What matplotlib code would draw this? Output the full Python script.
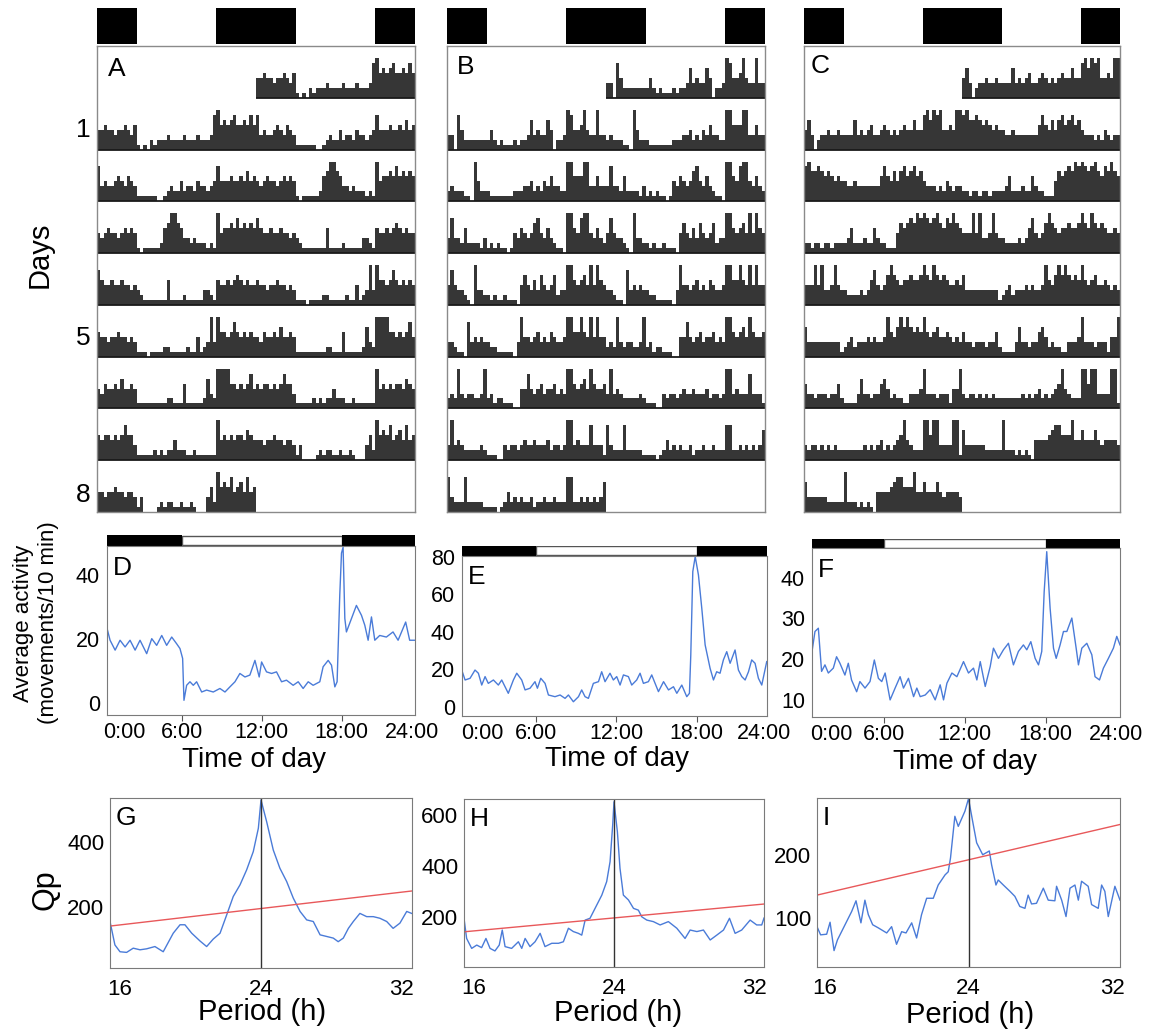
import numpy as np
import matplotlib.pyplot as plt

plt.rcParams['font.family'] = ['Liberation Sans', 'DejaVu Sans']

# ---- actogram data: one string per day, 48 half-hour bins, activity level 0-9
act_A = ["445443445435" "1010" "21222322223222322" "237" "856567556575",
         "734334543543" "11111100" "1232242332433234" "744454454645",
         "434544345454" "10111112" "568865" "3323222121" "845565756565",
         "754454454434" "321111111511112111113321" "544545654544",
         "544344544343" "111011112211111211412383" "855457545454",
         "435445464454" "111111111221115111112632" "888855454574",
         "545545457553" "111112121224222112111111" "845454554654",
         "443445443443" "130000121221121121000352" "856574564745"]
act_B = ["330742222222" "242121112122363433640223" "874458433833",
         "232221108422" "211111112223342324353322" "885558833533",
         "373325222213" "121211014354346743532110" "885478843532",
         "474332108332" "212112111046435364346233" "885456484854",
         "332110734343" "322111110384434534354334" "885585484844",
         "232832332238" "231221110044743453445343" "885456485445",
         "383432222232" "111003233234334333423323" "883433373331",
         "732227222221" "111012423232231223223222" "772232323236"]
act_C = ["463023343343" "333634345334543434544644" "786878445488",
         "786676565454" "433433333335754646756756" "433323243233",
         "221221221222" "235222322532211146567687" "876786576865",
         "444848334843" "322223235743468654556556" "865865654454",
         "633333333331" "234233343433485468686565" "854564454343",
         "533233323352" "111136332335642322113334" "833323331448",
         "323323232322" "222222323234232345843222" "885883333881",
         "633333322222" "822212121044445677555844" "644464344443"]

# ---- average activity profiles (movements / 10 min)
t_D = [0.35,0.6,0.98,1.35,1.73,2.1,2.48,2.85,3.35,3.73,4.1,4.48,4.85,5.23,5.6,5.85,6.05,6.15,6.35,6.6,
       6.85,7.1,7.48,7.85,8.35,8.85,9.23,9.6,9.98,10.35,10.73,11.1,11.48,11.8,11.98,12.35,12.73,13.1,13.48,13.85,
       14.35,14.73,15.1,15.48,15.85,16.35,16.6,16.98,17.23,17.48,17.65,17.85,17.98,18.1,18.23,18.35,18.73,19.1,19.48,19.73,
       19.98,20.23,20.48,20.85,21.35,21.85,22.23,22.8,23.1,23.48]
v_D = [23.8,19.7,16.6,19.7,17.6,19.7,16.6,19.7,15.5,20.2,18.1,21.2,18.1,20.7,18.6,17.1,14.0,0.9,5.6,6.7,
       5.6,6.7,3.5,4.1,3.5,4.6,3.5,5.1,6.7,9.3,8.2,8.8,13.4,8.2,12.9,9.8,9.3,9.8,6.7,7.2,
       5.6,6.7,4.6,6.7,5.6,6.7,11.4,13.4,11.9,5.1,6.7,33.8,47.0,48.8,26.5,22.3,26.5,30.6,27.5,24.4,
       19.7,27.0,19.7,21.2,20.7,22.3,19.7,25.4,19.7,19.7]
t_E = [0.5,0.75,1.12,1.49,1.74,1.99,2.24,2.48,2.86,3.23,3.48,3.97,4.35,4.6,4.97,5.22,5.59,5.96,6.14,6.39,
       6.71,6.96,7.45,7.83,8.2,8.45,8.82,9.2,9.44,9.69,9.94,10.31,10.69,10.93,11.18,11.55,11.8,12.05,12.3,12.55,
       12.92,13.17,13.54,13.79,14.04,14.41,14.66,14.91,15.16,15.54,15.91,16.28,16.53,16.9,17.27,17.47,17.57,17.72,17.9,18.14,
       18.39,18.64,19.01,19.26,19.5,19.75,20.0,20.25,20.5,20.87,21.12,21.37,21.62,21.87,22.11,22.36,22.61,22.86,23.23]
v_E = [19.7,14.4,15.3,19.7,18.0,11.7,16.2,12.6,14.4,11.7,14.4,7.3,14.4,18.0,14.4,9.1,10.0,13.5,10.0,15.3,
       12.6,6.4,5.5,6.4,4.6,6.4,2.8,5.5,9.1,5.5,4.6,12.6,13.5,18.8,13.5,18.0,14.4,16.2,11.7,17.1,
       16.2,11.7,14.4,18.0,12.6,13.5,17.1,12.6,8.2,13.5,9.1,10.8,7.3,11.7,5.5,7.3,27.7,72.2,80.2,70.4,
       52.6,33.1,20.6,14.4,18.8,18.0,25.1,29.5,23.3,30.4,19.7,16.2,14.4,18.8,25.1,23.3,15.3,11.7,24.2]
t_F = [0.69,0.89,1.14,1.38,1.63,1.88,2.25,2.49,2.74,3.11,3.36,3.6,3.98,4.22,4.6,4.97,5.29,5.59,5.84,6.09,
       6.46,6.83,7.2,7.45,7.82,8.2,8.44,8.69,9.06,9.43,9.8,10.17,10.42,10.67,11.04,11.41,11.9,12.27,12.64,12.89,
       13.14,13.51,13.88,14.12,14.49,14.86,15.23,15.6,15.97,16.34,16.59,16.89,17.21,17.46,17.7,17.88,18.07,18.32,18.57,18.77,
       19.06,19.31,19.56,19.93,20.25,20.42,20.67,21.04,21.41,21.65,21.98,22.27,22.64,23.01,23.26,23.5]
v_F = [22.3,26.8,27.6,17.0,18.6,16.6,17.8,20.6,19.0,16.1,19.0,14.9,12.0,14.5,12.9,14.5,19.8,15.3,14.5,16.6,
       10.0,12.9,15.7,12.9,15.3,10.8,12.9,10.8,11.2,12.5,10.0,13.7,10.0,14.1,16.6,15.7,19.4,16.6,17.8,14.9,
       19.4,13.3,18.2,22.7,20.2,22.3,23.9,18.6,21.9,23.5,22.3,24.3,20.2,18.6,21.9,36.6,46.4,32.5,22.7,20.2,
       23.5,26.8,26.8,30.1,22.7,18.6,22.7,23.9,21.1,15.7,14.9,17.8,20.2,22.7,25.6,23.5]

# ---- chi-square periodograms
per_G = [16.0,16.26,16.53,16.88,17.23,17.59,17.94,18.38,18.82,19.35,19.71,19.97,20.33,20.77,21.12,21.47,21.83,22.18,22.53,22.89,
         23.24,23.59,23.86,24.0,24.3,24.65,25.0,25.36,25.71,26.07,26.42,26.77,27.13,27.48,27.83,28.09,28.36,28.63,28.89,29.24,
         29.6,29.95,30.3,30.66,31.0,31.36,31.72,31.98]
qp_G = [155,83,62,60,73,68,71,78,62,119,145,145,119,95,78,101,119,175,232,268,
        314,370,442,529,462,375,319,278,227,186,160,155,114,109,104,93,104,134,155,180,
        170,170,165,155,134,150,186,180]
per_H = [16.0,16.14,16.41,16.68,16.94,17.17,17.39,17.65,17.88,18.04,18.19,18.54,18.9,19.08,19.26,19.52,19.79,20.06,20.32,20.68,
         21.04,21.3,21.57,21.83,22.1,22.28,22.46,22.72,22.99,23.35,23.61,23.79,23.93,24.0,24.18,24.32,24.5,24.77,25.04,25.3,
         25.48,25.75,26.1,26.46,26.9,27.35,27.79,28.06,28.42,28.77,29.13,29.48,29.84,30.16,30.46,30.81,31.26,31.61,31.88,32.0]
qp_H = [195,116,77,90,80,116,77,67,90,149,84,77,103,77,116,84,103,136,84,97,
        97,103,156,143,136,129,188,195,234,286,339,417,561,652,535,391,286,267,234,227,
        201,188,182,169,182,156,116,149,143,149,110,129,149,195,136,149,188,169,169,196]
per_I = [16.0,16.19,16.51,16.69,16.9,17.08,17.48,17.83,18.06,18.32,18.53,18.71,18.94,19.24,19.68,19.94,20.2,20.47,20.7,21.0,
         21.26,21.52,21.79,22.14,22.4,22.76,22.93,23.05,23.28,23.46,23.81,24.0,24.25,24.43,24.75,25.1,25.22,25.45,25.57,25.84,
         26.19,26.45,26.71,26.98,27.15,27.33,27.59,27.95,28.21,28.56,28.65,28.92,29.15,29.36,29.62,29.8,29.97,30.32,30.5,30.85,
         31.03,31.2,31.38,31.73,32.0]
qp_I = [86,73,74,93,48,65,89,110,127,92,128,105,89,84,76,86,58,78,76,92,
        68,105,131,131,152,168,173,195,261,245,269,289,248,219,200,206,184,152,160,152,
        142,134,118,115,136,122,123,147,128,127,150,128,102,147,152,128,158,150,121,115,
        152,142,102,150,128]
sig_period = [16, 32]
sig_G = [141, 249]
sig_H = [142, 251]
sig_I = [136, 248]

W, H = 1151, 1031
fig = plt.figure(figsize=(W / 100, H / 100), dpi=100)
BLUE = '#4a7bd8'
RED = '#e8585a'
FRAME = '#7a7a7a'


def px_axes(x0, y0, x1, y1):
    return fig.add_axes([x0 / W, 1 - y1 / H, (x1 - x0) / W, (y1 - y0) / H])


def actogram(x0, x1, days, letter, lx, ly):
    ld = px_axes(x0, 8, x1, 44)
    ld.broken_barh([(0, 6), (18, 12), (42, 6)], (0, 1), facecolors='black')
    ld.set_xlim(0, 48)
    ld.set_ylim(0, 1)
    ld.axis('off')

    ax = px_axes(x0, 46, x1, 512)
    RH = 10.4
    ax.set_xlim(0, 48)
    ax.set_ylim(0, 9 * RH)
    vals = [np.array([int(c) for c in d]) for d in days]
    bins = np.arange(48) * 0.5
    for r in range(9):
        yb = (8 - r) * RH
        if r >= 1:
            ax.bar(bins, vals[r - 1], width=0.5, bottom=yb, align='edge',
                   color='#363636', lw=0)
        if r <= 7:
            ax.bar(bins + 24, vals[r], width=0.5, bottom=yb, align='edge',
                   color='#363636', lw=0)
        if r == 0:
            ax.hlines(yb, 24, 48, color='#1a1a1a', lw=1.3)
        elif r < 8:
            ax.hlines(yb, 0, 48, color='#1a1a1a', lw=1.3)
    ax.set_xticks([])
    ax.set_yticks([])
    for s in ax.spines.values():
        s.set_color('#8a8a8a')
        s.set_linewidth(1)
    fig.text(lx / W, 1 - ly / H, letter, fontsize=19, ha='center', va='center')


actogram(97, 415, act_A, 'A', 117, 69)
actogram(447, 765, act_B, 'B', 466, 67)
actogram(804, 1120, act_C, 'C', 820, 66)

for lbl, y in [('1', 130), ('5', 338), ('8', 495)]:
    fig.text(83 / W, 1 - y / H, lbl, fontsize=19, ha='center', va='center')
fig.text(40 / W, 1 - 255 / H, 'Days', fontsize=21, rotation=90, ha='center', va='center')


def profile(box, ldy, t, v, xlim, ylim, yticks, lblpos, letter, xlab):
    x0, y0, x1, y1 = box
    ld = px_axes(x0, ldy, x1, y0)
    ld.set_xlim(*xlim)
    ld.set_ylim(0, 1)
    ld.broken_barh([(6, 12)], (0.05, 0.9), facecolors='white', edgecolor='#555555', lw=1)
    ld.broken_barh([(xlim[0], 6 - xlim[0]), (18, xlim[1] - 18)], (0, 1), facecolors='black')
    ld.axis('off')

    ax = px_axes(*box)
    ax.plot(t, v, color=BLUE, lw=1)
    ax.set_xlim(*xlim)
    ax.set_ylim(*ylim)
    ax.set_yticks(yticks)
    ax.set_xticks(lblpos)
    ax.set_xticklabels(['0:00', '6:00', '12:00', '18:00', '24:00'])
    ax.tick_params(axis='x', direction='out', length=4, pad=1, labelsize=15.5, color='#555555')
    ax.tick_params(axis='y', length=0, pad=5, labelsize=15.5)
    ticks = ax.xaxis.get_major_ticks()
    for tk in (ticks[0], ticks[-1]):
        tk.tick1line.set_visible(False)
    for s in ax.spines.values():
        s.set_color(FRAME)
    ax.text(0.02, 0.87, letter, transform=ax.transAxes, fontsize=19, ha='left', va='center')
    fig.text(xlab[0] / W, 1 - xlab[1] / H, 'Time of day', fontsize=20, ha='center', va='center')


profile((107, 546, 415, 715), 535, t_D, v_D, (0.37, 23.5), (-3.7, 49.2), [0, 20, 40],
        [1.7, 6, 12, 18, 23.25], 'D', (254, 760))
profile((462, 556, 767, 716), 546, t_E, v_E, (0.52, 23.25), (-4.8, 80.5), [0, 20, 40, 60, 80],
        [2.0, 6, 12, 18, 23.0], 'E', (617, 759))
profile((812, 548, 1120, 717), 539, t_F, v_F, (0.67, 23.5), (5.8, 47.3), [10, 20, 30, 40],
        [2.1, 6, 12, 18, 23.2], 'F', (965, 762))

fig.text(36 / W, 1 - 623 / H, 'Average activity\n(movements/10 min)', fontsize=16,
         rotation=90, ha='center', va='center', linespacing=1.2)


def periodogram(box, per, qp, sig, ylim, yticks, lblpos, letter, xlab):
    ax = px_axes(*box)
    ax.plot(per, qp, color=BLUE, lw=1)
    ax.plot(sig_period, sig, color=RED, lw=1)
    ax.axvline(24, color='#333333', lw=1)
    ax.set_xlim(16, 32)
    ax.set_ylim(*ylim)
    ax.set_yticks(yticks)
    ax.set_xticks(lblpos)
    ax.set_xticklabels(['16', '24', '32'])
    ax.tick_params(axis='x', length=0, pad=8, labelsize=16)
    ax.tick_params(axis='y', length=0, pad=4, labelsize=16)
    for s in ax.spines.values():
        s.set_color(FRAME)
    ax.text(0.02, 0.88, letter, transform=ax.transAxes, fontsize=19, ha='left', va='center')
    fig.text(xlab[0] / W, 1 - xlab[1] / H, 'Period (h)', fontsize=21, ha='center', va='center')


periodogram((110, 798, 412, 968), per_G, qp_G, sig_G, (12, 535), [200, 400],
            [16.53, 24, 31.45], 'G', (262, 1012))
periodogram((464, 799, 764, 967), per_H, qp_H, sig_H, (4, 663), [200, 400, 600],
            [16.5, 24, 31.5], 'H', (618, 1013))
periodogram((817, 798, 1120, 967), per_I, qp_I, sig_I, (22, 290), [100, 200],
            [16.4, 24, 31.6], 'I', (970, 1015))

fig.text(46 / W, 1 - 890 / H, 'Qp', fontsize=22, rotation=90, ha='center', va='center')

fig.savefig('out.png', dpi=100)
